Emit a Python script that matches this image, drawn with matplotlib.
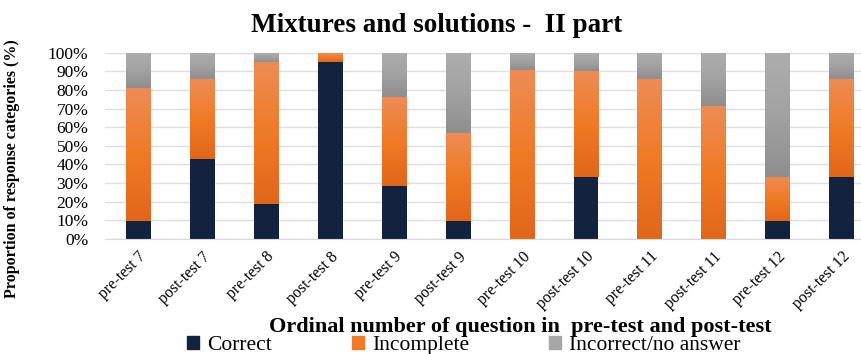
import numpy as np
import matplotlib
matplotlib.use("Agg")
import matplotlib.pyplot as plt
from matplotlib.colors import LinearSegmentedColormap
from matplotlib.patches import Patch

# share of answers per question (%), 21 pupils
categories = ["pre-test 7", "post-test 7", "pre-test 8", "post-test 8",
              "pre-test 9", "post-test 9", "pre-test 10", "post-test 10",
              "pre-test 11", "post-test 11", "pre-test 12", "post-test 12"]
correct = [9.5, 42.9, 19.0, 95.2, 28.6, 9.5, 0.0, 33.3, 0.0, 0.0, 9.5, 33.3]
incomplete = [71.4, 42.9, 76.2, 4.8, 47.6, 47.6, 90.5, 57.1, 85.7, 71.4, 23.8, 52.4]
incorrect = [19.0, 14.3, 4.8, 0.0, 23.8, 42.9, 9.5, 9.6, 14.3, 28.6, 66.7, 14.3]
series_names = ["Correct", "Incomplete", "Incorrect/no answer"]

navy = "#13233F"
orange_cmap = LinearSegmentedColormap.from_list("org", ["#E2661A", "#F07A25", "#EE8C55"])
grey_cmap = LinearSegmentedColormap.from_list("gry", ["#8E8E8E", "#A2A2A2", "#ADADAD"])

plt.rcParams['font.family'] = ['Liberation Serif', 'DejaVu Serif']

fig = plt.figure(figsize=(8.61, 3.54), dpi=100)
ax = fig.add_axes([0.122, 0.325, 0.878, 0.526])

x = np.arange(len(categories))
w = 0.39
grad = np.linspace(0, 1, 256).reshape(-1, 1)

def grad_bar(xc, bottom, height, cmap):
    # vertical gradient fill, darker at the bottom of each segment
    if height <= 0:
        return
    ax.imshow(grad, extent=(xc - w / 2, xc + w / 2, bottom, bottom + height),
              origin="lower", cmap=cmap, aspect="auto", zorder=2,
              interpolation="bilinear")

for i in range(len(categories)):
    c = correct[i] / 100
    inc = incomplete[i] / 100
    ic = incorrect[i] / 100
    ax.bar(x[i], c, width=w, color=navy, zorder=2)
    grad_bar(x[i], c, inc, orange_cmap)
    grad_bar(x[i], c + inc, ic, grey_cmap)

ax.set_xlim(-0.52, 11.3)
ax.set_ylim(0, 1.0)
yt = np.arange(0, 1.01, 0.1)
ax.set_yticks(yt)
ax.set_yticklabels([f"{int(round(v * 100))}%" for v in yt], fontsize=12.5)
ax.set_xticks(x)
ax.set_xticklabels(categories, rotation=45, ha="right", rotation_mode="anchor", fontsize=11.5)
ax.tick_params(axis="y", length=0, pad=12)
ax.tick_params(axis="x", length=0, pad=7)
ax.grid(axis="y", color="#DCDFE6", linewidth=1, zorder=0)
ax.set_axisbelow(True)
for s in ["top", "right", "left"]:
    ax.spines[s].set_visible(False)
ax.spines["bottom"].set_color("#D9D9D9")

ax.set_title("Mixtures and solutions -  II part", fontsize=19.5, fontweight="bold",
             x=0.438, pad=15)
ax.set_ylabel("Proportion of response categories (%)", fontsize=11.5, fontweight="bold")
ax.yaxis.set_label_coords(-0.113, 0.38)
ax.set_xlabel("Ordinal number of question in  pre-test and post-test", fontsize=16,
              fontweight="bold")
ax.xaxis.label.set_va("baseline")
ax.xaxis.set_label_coords(0.549, -0.499)

handles = [Patch(color=navy), Patch(color="#F07A25"), Patch(color="#A6A6A6")]
fig.legend(handles, series_names, loc="lower left", bbox_to_anchor=(0.217, -0.004),
           ncol=3, frameon=False, fontsize=15.5, handlelength=0.55, handleheight=0.55,
           handletextpad=0.4, columnspacing=3.7, borderpad=0, borderaxespad=0)

fig.savefig("out.png", dpi=100)
